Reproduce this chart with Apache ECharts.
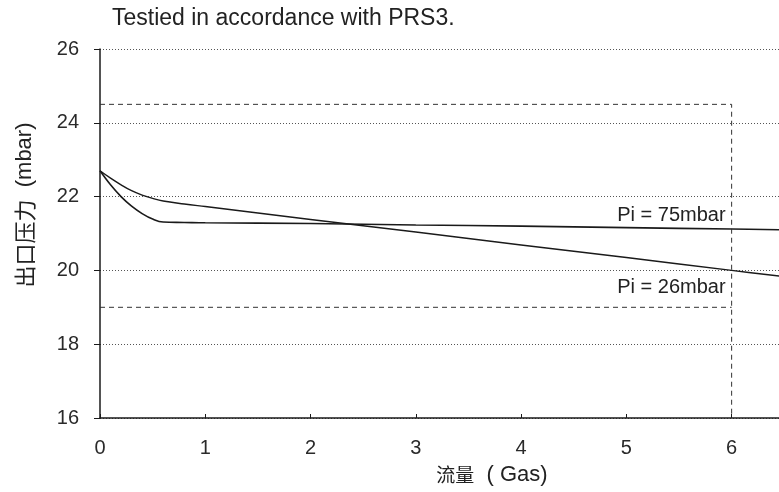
<!DOCTYPE html>
<html><head><meta charset="utf-8">
<script src="https://cdn.jsdelivr.net/npm/echarts@6/dist/echarts.min.js"></script>
<style>html,body{margin:0;padding:0;background:#fff}#c{width:779px;height:492px}</style>
</head><body><div id="c"></div>
<script>
const titleText = 'Testied in accordance with PRS3.';
const xNameCjk = '流量';
const xNameLat = '  ( Gas)';
const yNameCjk = '出口压力';
const yNameLat = '  (mbar)';
const xTicks = [0, 1, 2, 3, 4, 5, 6];
const yTicks = [16, 18, 20, 22, 24, 26];
const pi75 = [[0,22.7],[0.1,22.32],[0.2,22.0],[0.3,21.74],[0.4,21.54],[0.5,21.39],[0.6,21.31],[0.8,21.3],[1,21.29],[2,21.27],[3,21.23],[4,21.2],[5,21.16],[6,21.12],[6.5,21.1]];
const pi26 = [[0,22.7],[0.1,22.5],[0.2,22.32],[0.3,22.16],[0.4,22.04],[0.5,21.95],[0.6,21.88],[0.8,21.8],[1,21.73],[2,21.38],[3,21.04],[4,20.69],[5,20.35],[6,20.0],[6.5,19.83]];
const upperLimit = [[0,24.5],[6,24.5],[6,16]];
const lowerLimit = [[0,19],[6,19]];
const label75 = 'Pi = 75mbar';
const label26 = 'Pi = 26mbar';

const ink = '#1a1a1a';
const lat = 'Liberation Sans, Arial, sans-serif';
const cjk = 'Noto Sans CJK SC, sans-serif';
const chart = echarts.init(document.getElementById('c'));
chart.setOption({
  animation: false,
  grid: {left: 100, right: 0, top: 49, height: 369},
  xAxis: {
    type: 'value', min: 0, max: 6.45, interval: 1,
    axisLine: {lineStyle: {color: ink, width: 1.5}},
    axisTick: {inside: true, length: 4, lineStyle: {color: ink}},
    axisLabel: {color: '#2a2a2a', fontSize: 20, margin: 20, fontFamily: lat, showMaxLabel: false,
      formatter: v => xTicks.includes(v) ? String(v) : ''},
    splitLine: {show: false}
  },
  yAxis: {
    type: 'value', min: 16, max: 26, interval: 2,
    axisLine: {show: true, lineStyle: {color: ink, width: 1.5}},
    axisTick: {show: true, length: 6, lineStyle: {color: ink}},
    axisLabel: {color: '#2a2a2a', fontSize: 20, margin: 21, fontFamily: lat,
      formatter: v => yTicks.includes(v) ? String(v) : ''},
    splitLine: {show: true, lineStyle: {color: '#555', type: [1, 2], width: 1}}
  },
  graphic: [
    {type: 'text', left: 112, top: 7, style: {text: titleText, fontSize: 23, fill: '#222', fontFamily: lat}},
    {type: 'text', x: 492, y: 475, style: {text: '{c|' + xNameCjk + '}{l|' + xNameLat + '}', align: 'center', verticalAlign: 'middle',
      rich: {c: {fontSize: 19, fontFamily: cjk, fill: '#222'}, l: {fontSize: 22, fontFamily: lat, fill: '#222'}}}},
    {type: 'text', x: 25, y: 205, rotation: Math.PI / 2, style: {text: '{c|' + yNameCjk + '}{l|' + yNameLat + '}', align: 'center', verticalAlign: 'middle',
      rich: {c: {fontSize: 22, fontFamily: cjk, fill: '#222'}, l: {fontSize: 22, fontFamily: lat, fill: '#222'}}}}
  ],
  series: [
    {type: 'line', data: pi75, smooth: 0.4, symbol: 'none', lineStyle: {color: ink, width: 1.6},
     markPoint: {symbol: 'circle', symbolSize: 0, data: [{coord: [6, 21.12], label: {show: true, formatter: label75, position: 'left', offset: [-1, -14], color: '#222', fontSize: 20, fontFamily: lat}}]}},
    {type: 'line', data: pi26, smooth: 0.4, symbol: 'none', lineStyle: {color: ink, width: 1.4},
     markPoint: {symbol: 'circle', symbolSize: 0, data: [{coord: [6, 20.0], label: {show: true, formatter: label26, position: 'left', offset: [-1, 17], color: '#222', fontSize: 20, fontFamily: lat}}]}},
    {type: 'line', data: upperLimit, symbol: 'none', lineStyle: {color: '#333', width: 1, type: [5, 4]}},
    {type: 'line', data: lowerLimit, symbol: 'none', lineStyle: {color: '#333', width: 1, type: [5, 4]}}
  ]
});
</script></body></html>
